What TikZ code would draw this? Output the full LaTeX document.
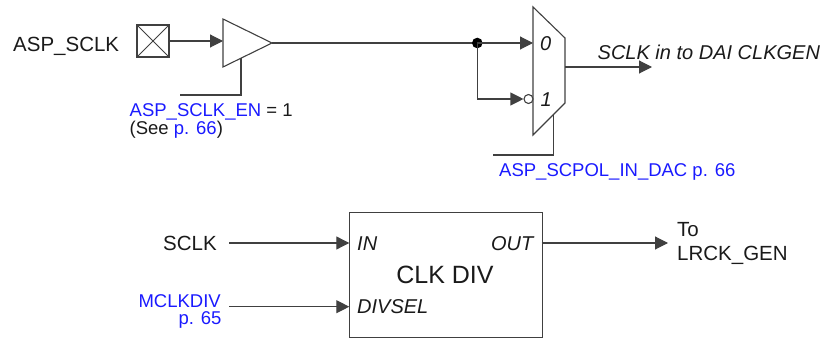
\documentclass[tikz,border=0pt]{standalone}
\usepackage{fontspec}
\setmainfont{Liberation Sans}
\usetikzlibrary{arrows.meta}
\definecolor{ln}{HTML}{404040}
\definecolor{bl}{HTML}{1A1AFF}
\definecolor{tx}{HTML}{1A1A1A}
\tikzset{
  wire/.style={draw=ln, line width=1.1pt},
  arr/.style={wire, -{Triangle[length=13pt,width=13pt]}},
  lbl/.style={inner sep=0pt, text=tx, font=\fontsize{20.5}{22}\selectfont},
  ilbl/.style={lbl, font=\fontsize{20}{22}\selectfont\itshape},
  blbl/.style={inner sep=0pt, text=bl, font=\fontsize{18.5}{20}\selectfont},
}
\begin{document}
\begin{tikzpicture}[x=1pt,y=-1pt]
\useasboundingbox (0,0) rectangle (823,339);
% ---- top: pad, buffer, mux
\node[lbl, anchor=base west] (asp) at (13,52) {ASP\_SCLK};
\node[wire, minimum size=32pt, inner sep=0pt,
  path picture={\draw[ln, line width=0.8pt] (path picture bounding box.north west) -- (path picture bounding box.south east)
     (path picture bounding box.north east) -- (path picture bounding box.south west);}] (pad) at (153,41) {};
% buffer
\coordinate (bt) at (223,19);
\coordinate (bb) at (223,67);
\coordinate (bufout) at (272,43);
\coordinate (bufin) at (223,41);
\draw[wire, line join=miter] (bt) -- (bb) -- (bufout) -- cycle;
\draw[arr] (pad.east) -- (bufin);
\coordinate (en) at (241,58.2);
\coordinate (enc) at (241,95);
\coordinate (enl) at (180,95);
\draw[wire] (en) -- (enc) -- (enl);
\node[blbl, anchor=base west] (ensig) at (129.5,116.5) {ASP\_SCLK\_EN\ \textcolor{tx}{= 1}};
\node[lbl, anchor=base west, font=\fontsize{18.5}{20}\selectfont] (see) at (129.5,134.5) {(See \textcolor{bl}{p. 66})};
% junction
\coordinate (dot) at (477.3,43);
\draw[wire] (bufout) -- (dot);
\fill[black] (dot) circle (5.3pt);
% mux
\coordinate (m1) at (533,7);
\coordinate (m2) at (565,38);
\coordinate (m3) at (565,103);
\coordinate (m4) at (533,135);
\draw[wire, line join=miter] (m1) -- (m2) -- (m3) -- (m4) -- cycle;
\coordinate (in0) at (533,43);
\draw[arr] (dot) -- (in0);
\node[wire, circle, minimum size=9pt, inner sep=0pt, fill=white] (bub) at (528.5,99) {};
\coordinate (c1) at (477.3,99);
\draw[arr] (dot) -- (c1) -- (bub.west);
\node[ilbl, anchor=base west] (l0) at (540,51) {0};
\node[ilbl, anchor=base west] (l1) at (540.5,106.7) {1};
% select
\coordinate (sel) at (553.3,115);
\coordinate (selc) at (553.3,155);
\coordinate (sell) at (493,155);
\draw[wire] (sel) -- (selc) -- (sell);
\node[blbl, anchor=base west] (pol) at (499,176.5) {ASP\_SCPOL\_IN\_DAC p. 66};
% output
\coordinate (mout) at (565,67);
\coordinate (mend) at (652,67);
\draw[arr] (mout) -- (mend);
\node[ilbl, anchor=base west] (sclkout) at (597.5,59.3) {SCLK in to DAI CLKGEN};
% ---- bottom: clock divider
\node[wire, fill=white, anchor=north west, minimum width=192.4pt, minimum height=125.3pt, inner sep=0pt] (div) at (349.3,211.7) {};
\node[lbl, anchor=base, font=\fontsize{25}{27}\selectfont] (divname) at (445,283.3) {CLK DIV};
\node[ilbl, anchor=base west] (pin) at (357,251) {IN};
\node[ilbl, anchor=base east] (pout) at (533.5,251) {OUT};
\node[ilbl, anchor=base west] (psel) at (357,313.3) {DIVSEL};
\node[lbl, anchor=base east] (sclk) at (217,250.7) {SCLK};
\coordinate (sclke) at (229,243);
\coordinate (divin) at (349.3,243);
\draw[arr] (sclke) -- (divin);
\node[blbl, anchor=base east] (mcd) at (221,307.3) {MCLKDIV};
\node[blbl, anchor=base east] (mcdp) at (221.7,325) {p. 65};
\coordinate (mcde) at (229,306.7);
\coordinate (divsel) at (349.3,306.7);
\draw[arr] (mcde) -- (divsel);
\coordinate (divout) at (541.7,243);
\coordinate (toend) at (668,243);
\draw[arr] (divout) -- (toend);
\node[lbl, anchor=base west] (to1) at (677,236.7) {To};
\node[lbl, anchor=base west] (to2) at (677,261) {LRCK\_GEN};
\end{tikzpicture}
\end{document}
